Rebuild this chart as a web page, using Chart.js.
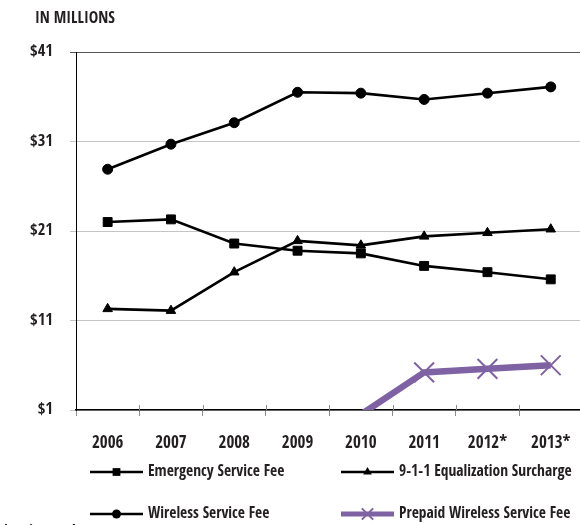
<!DOCTYPE html>
<html><head><meta charset="utf-8">
<script src="https://cdn.jsdelivr.net/npm/chart.js@4/dist/chart.umd.min.js"></script>
<style>
html,body{margin:0;padding:0;background:#fff;overflow:hidden;width:580px;height:525px}
#wrap{position:absolute;left:0;top:0;width:600px;height:525px}
.txt{position:absolute;font-family:'Open Sans Condensed','Roboto Condensed',sans-serif;font-weight:500;color:#231f20;line-height:1;white-space:nowrap}
#title{left:35px;top:9px;font-size:16px}
#note{left:2px;top:523px;font-size:17px}
</style></head>
<body>
<div id="wrap"><canvas id="c" width="600" height="525"></canvas></div>
<div id="title" class="txt">IN MILLIONS</div>
<div id="note" class="txt">*Estimated</div>
<script>
const categories = ['2006','2007','2008','2009','2010','2011','2012*','2013*'];
const emergencyServiceFee = [22.0, 22.3, 19.6, 18.8, 18.5, 17.1, 16.4, 15.6];
const equalizationSurcharge = [12.3, 12.1, 16.4, 19.9, 19.4, 20.4, 20.8, 21.2];
const wirelessServiceFee = [27.9, 30.7, 33.1, 36.5, 36.4, 35.7, 36.4, 37.1];
const prepaidWirelessFee = [null, null, null, null, 0.5, 5.2, 5.6, 6.0];
const seriesNames = ['Emergency Service Fee','9-1-1 Equalization Surcharge','Wireless Service Fee','Prepaid Wireless Service Fee'];
const yMin = 1, yMax = 41, yStep = 10;

const FONT = "'Open Sans Condensed','Roboto Condensed',sans-serif";
const TXT = '#231f20';
const PURPLE = '#7f62a3';
const W = '500';

function drawMarker(c, style, x, y, r){
  c.beginPath();
  if(style==='rect'){ const s=r*Math.SQRT1_2; c.rect(x-s,y-s,2*s,2*s); c.fill(); }
  else if(style==='circle'){ c.arc(x,y,r,0,Math.PI*2); c.fill(); }
  else if(style==='triangle'){
    const w=r*Math.sin(Math.PI*2/3);
    c.moveTo(x,y-r); c.lineTo(x+w,y+r/2); c.lineTo(x-w,y+r/2); c.closePath(); c.fill();
  } else if(style==='crossRot'){
    const o=r*Math.SQRT1_2;
    c.moveTo(x-o,y-o); c.lineTo(x+o,y+o); c.moveTo(x+o,y-o); c.lineTo(x-o,y+o); c.stroke();
  }
}

const legendPlugin = {
  id:'customLegend',
  afterDraw(chart){
    const c = chart.ctx;
    const pos = [[90,472],[341,472],[90,514],[341,514]];
    chart.data.datasets.forEach((ds,i)=>{
      const [x,y] = pos[i];
      c.save();
      c.strokeStyle = ds.borderColor;
      c.fillStyle = ds.borderColor;
      c.lineWidth = ds.legendLine;
      c.lineCap = 'butt';
      c.beginPath(); c.moveTo(x,y); c.lineTo(x+53,y); c.stroke();
      c.lineWidth = 2;
      drawMarker(c, ds.pointStyle, x+26.5, y, ds.legendRadius);
      c.fillStyle = TXT;
      c.font = W + ' 15.5px ' + FONT;
      c.textBaseline = 'middle';
      c.textAlign = 'left';
      c.fillText(ds.label, x+58, y);
      c.restore();
    });
  }
};

const tickPlugin = {
  id:'upTicks',
  afterDraw(chart){
    const s = chart.scales.x, c = chart.ctx;
    const n = s.ticks.length, w = s.width / n;
    c.save(); c.strokeStyle = '#8c8c8c'; c.lineWidth = 1;
    for(let k=1;k<n;k++){
      const x = Math.round(s.left + k*w) + 0.5;
      c.beginPath(); c.moveTo(x, s.top - 5); c.lineTo(x, s.top); c.stroke();
    }
    c.restore();
  }
};

new Chart(document.getElementById('c'), {
  type:'line',
  data:{
    labels: categories,
    datasets:[
      {label:seriesNames[0], data:emergencyServiceFee, borderColor:'#000', backgroundColor:'#000', borderWidth:2.6,
       pointStyle:'rect', pointRadius:6.3, pointBorderWidth:1, pointBackgroundColor:'#000', legendLine:2.6, legendRadius:5.5, tension:0},
      {label:seriesNames[1], data:equalizationSurcharge, borderColor:'#000', backgroundColor:'#000', borderWidth:2.6,
       pointStyle:'triangle', pointRadius:5.5, pointBorderWidth:1, pointBackgroundColor:'#000', legendLine:2.6, legendRadius:5, tension:0},
      {label:seriesNames[2], data:wirelessServiceFee, borderColor:'#000', backgroundColor:'#000', borderWidth:2.6,
       pointStyle:'circle', pointRadius:5, pointBorderWidth:1, pointBackgroundColor:'#000', legendLine:2.6, legendRadius:4.5, tension:0},
      {label:seriesNames[3], data:prepaidWirelessFee, borderColor:PURPLE, backgroundColor:PURPLE, borderWidth:6.5,
       pointStyle:'crossRot', pointRadius:(ctx)=>{const v=ctx.raw; return (v==null||v<yMin)?0:14;}, pointBorderWidth:2,
       pointBorderColor:PURPLE, legendLine:5, legendRadius:8, tension:0, clip:0, spanGaps:false}
    ]
  },
  options:{
    responsive:false, animation:false,
    layout:{padding:{top:52, right:17.6, left:0, bottom:0}},
    plugins:{legend:{display:false}, tooltip:{enabled:false}},
    scales:{
      x:{type:'category', offset:true,
         grid:{offset:true, drawOnChartArea:false, tickLength:6, color:'#8c8c8c', lineWidth:1},
         border:{color:'#000', width:1.5},
         ticks:{font:{family:FONT, size:17, weight:W}, color:TXT, padding:17, maxRotation:0, autoSkip:false},
         afterFit(s){ s.height = 115; }},
      y:{min:yMin, max:yMax,
         ticks:{stepSize:yStep, callback:(v)=>'$'+v, font:{family:FONT, size:16.5, weight:W}, color:TXT, padding:17},
         grid:{tickLength:6, color:(ctx)=> ctx.tick && ctx.tick.value===yMax ? '#555' : '#c4c4c4', lineWidth:1},
         border:{color:'#000', width:1},
         afterFit(s){ s.width = 76; }}
    }
  },
  plugins:[legendPlugin, tickPlugin]
});
</script>
</body></html>
